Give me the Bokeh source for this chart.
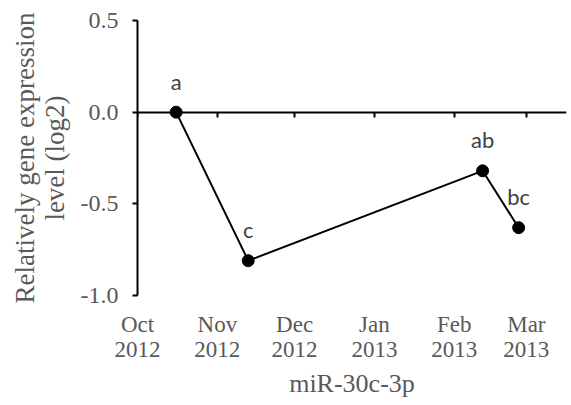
import pandas as pd
from bokeh.plotting import figure
from bokeh.models import Range1d, FixedTicker, LinearAxis, ColumnDataSource
from bokeh.core.properties import value
from bokeh.embed import file_html
from bokeh.resources import INLINE

# ---- data ----
dates = ["2012-10-16", "2012-11-13", "2013-02-12", "2013-02-26"]
values = [0.0, -0.81, -0.32, -0.63]
letters = ["a", "c", "ab", "bc"]
tick_dates = ["2012-10-01", "2012-11-01", "2012-12-01", "2013-01-01", "2013-02-01", "2013-03-01"]
tick_labels = ["Oct\n2012", "Nov\n2012", "Dec\n2012", "Jan\n2013", "Feb\n2013", "Mar\n2013"]
x_start, x_end = "2012-10-01", "2013-03-16 14:00"
y_ticks = [-1.0, -0.5, 0.0, 0.5]
y_tick_labels = ["-1.0", "-0.5", "0.0", "0.5"]
x_title = "miR-30c-3p"
y_title = "Relatively gene expression\nlevel (log2)"


def ms(d):
    return int(pd.Timestamp(d).timestamp() * 1000)


x_ms = [ms(d) for d in dates]
tick_ms = [ms(d) for d in tick_dates]

src = ColumnDataSource(dict(x=x_ms, y=values, t=letters))

p = figure(width=571, height=405, output_backend="svg", toolbar_location=None,
           x_range=Range1d(ms(x_start), ms(x_end)), y_range=Range1d(-1.0, 0.5),
           min_border_left=137, min_border_top=20, min_border_right=5, min_border_bottom=110)
p.outline_line_color = None
p.grid.visible = False
p.background_fill_color = "white"

GRAY = "#595959"
SERIF = "Liberation Serif"

# label-only bottom axis
xa = p.xaxis[0]
xa.ticker = FixedTicker(ticks=tick_ms)
xa.major_label_overrides = {t: l for t, l in zip(tick_ms, tick_labels)}
xa.axis_line_color = None
xa.major_tick_line_color = None
xa.minor_tick_line_color = None
xa.major_tick_out = 0
xa.major_tick_in = 0
xa.major_label_standoff = 16
xa.major_label_text_font = SERIF
xa.major_label_text_font_size = "23px"
xa.major_label_text_line_height = 1.0
xa.major_label_text_color = GRAY
xa.axis_label = x_title
xa.axis_label_text_font = SERIF
xa.axis_label_text_font_size = "26px"
xa.axis_label_text_font_style = "normal"
xa.axis_label_text_color = GRAY
xa.axis_label_standoff = 4

# zero line axis with ticks pointing down (placed in the top panel, drawn at y=0)
za = LinearAxis(fixed_location=0, ticker=FixedTicker(ticks=tick_ms),
                major_tick_out=0, major_tick_in=5, minor_tick_out=0, minor_tick_in=0,
                major_label_text_font_size="0px", major_label_standoff=0,
                axis_line_width=2, major_tick_line_width=2,
                axis_line_color="black", major_tick_line_color="black")
za.major_label_overrides = {t: "" for t in tick_ms}
p.add_layout(za, "above")

ya = p.yaxis[0]
ya.ticker = FixedTicker(ticks=y_ticks)
ya.major_label_overrides = {t: l for t, l in zip(y_ticks, y_tick_labels)}
ya.minor_tick_line_color = None
ya.major_tick_out = 5
ya.major_tick_in = 0
ya.axis_line_width = 2
ya.major_tick_line_width = 2
ya.major_label_standoff = 14
ya.major_label_text_font = SERIF
ya.major_label_text_font_size = "24px"
ya.major_label_text_color = GRAY
ya.axis_label = y_title
ya.axis_label_text_font = SERIF
ya.axis_label_text_font_size = "27px"
ya.axis_label_text_font_style = "normal"
ya.axis_label_text_line_height = 1.0
ya.axis_label_text_color = GRAY
ya.axis_label_standoff = 8

p.line("x", "y", source=src, line_color="black", line_width=2)
p.scatter("x", "y", source=src, size=12, fill_color="black", line_color="black")
p.text("x", "y", text="t", source=src, y_offset=-31, text_align="center",
       text_baseline="alphabetic", text_font=value("Lato"), text_font_size="22px",
       text_color="#404040")

open("out.html", "w").write(file_html(p, INLINE))
